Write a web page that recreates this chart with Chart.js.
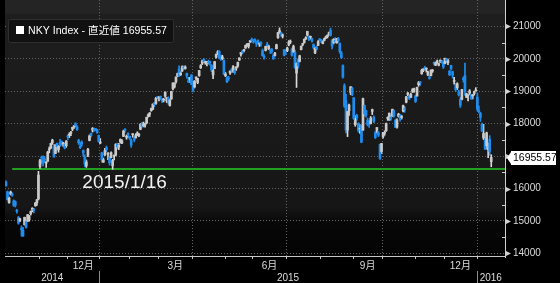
<!DOCTYPE html>
<html>
<head>
<meta charset="utf-8">
<script src="https://cdn.jsdelivr.net/npm/chart.js@4.4.0/dist/chart.umd.min.js"></script>
<style>
  html, body { margin: 0; padding: 0; background: #000; }
  #wrap { width: 560px; height: 283px; }
</style>
</head>
<body>
<div id="wrap"><canvas id="nkyChart" width="560" height="283"></canvas></div>
<script>
// NKY Index daily candles, Oct 2014 - Jan 2016
const seriesName = 'NKY Index - 直近値';
const lastValue = 16955.57;

const dates = [
  '2014-10-01','2014-10-02','2014-10-03','2014-10-06','2014-10-07','2014-10-08','2014-10-09','2014-10-10','2014-10-14','2014-10-15','2014-10-16','2014-10-17','2014-10-20','2014-10-21','2014-10-22','2014-10-23','2014-10-24','2014-10-27','2014-10-28','2014-10-29','2014-10-30','2014-10-31',
  '2014-11-04','2014-11-05','2014-11-06','2014-11-07','2014-11-10','2014-11-11','2014-11-12','2014-11-13','2014-11-14','2014-11-17','2014-11-18','2014-11-19','2014-11-20','2014-11-21','2014-11-25','2014-11-26','2014-11-27','2014-11-28',
  '2014-12-01','2014-12-02','2014-12-03','2014-12-04','2014-12-05','2014-12-08','2014-12-09','2014-12-10','2014-12-11','2014-12-12','2014-12-15','2014-12-16','2014-12-17','2014-12-18','2014-12-19','2014-12-22','2014-12-24','2014-12-25','2014-12-26','2014-12-29','2014-12-30',
  '2015-01-05','2015-01-06','2015-01-07','2015-01-08','2015-01-09','2015-01-13','2015-01-14','2015-01-15','2015-01-16','2015-01-19','2015-01-20','2015-01-21','2015-01-22','2015-01-23','2015-01-26','2015-01-27','2015-01-28','2015-01-29','2015-01-30',
  '2015-02-02','2015-02-03','2015-02-04','2015-02-05','2015-02-06','2015-02-09','2015-02-10','2015-02-12','2015-02-13','2015-02-16','2015-02-17','2015-02-18','2015-02-19','2015-02-20','2015-02-23','2015-02-24','2015-02-25','2015-02-26','2015-02-27',
  '2015-03-02','2015-03-03','2015-03-04','2015-03-05','2015-03-06','2015-03-09','2015-03-10','2015-03-11','2015-03-12','2015-03-13','2015-03-16','2015-03-17','2015-03-18','2015-03-19','2015-03-20','2015-03-23','2015-03-24','2015-03-25','2015-03-26','2015-03-27','2015-03-30','2015-03-31',
  '2015-04-01','2015-04-02','2015-04-03','2015-04-06','2015-04-07','2015-04-08','2015-04-09','2015-04-10','2015-04-13','2015-04-14','2015-04-15','2015-04-16','2015-04-17','2015-04-20','2015-04-21','2015-04-22','2015-04-23','2015-04-24','2015-04-27','2015-04-28','2015-04-30',
  '2015-05-01','2015-05-07','2015-05-08','2015-05-11','2015-05-12','2015-05-13','2015-05-14','2015-05-15','2015-05-18','2015-05-19','2015-05-20','2015-05-21','2015-05-22','2015-05-25','2015-05-26','2015-05-27','2015-05-28','2015-05-29',
  '2015-06-01','2015-06-02','2015-06-03','2015-06-04','2015-06-05','2015-06-08','2015-06-09','2015-06-10','2015-06-11','2015-06-12','2015-06-15','2015-06-16','2015-06-17','2015-06-18','2015-06-19','2015-06-22','2015-06-23','2015-06-24','2015-06-25','2015-06-26','2015-06-29','2015-06-30',
  '2015-07-01','2015-07-02','2015-07-03','2015-07-06','2015-07-07','2015-07-08','2015-07-09','2015-07-10','2015-07-13','2015-07-14','2015-07-15','2015-07-16','2015-07-17','2015-07-21','2015-07-22','2015-07-23','2015-07-24','2015-07-27','2015-07-28','2015-07-29','2015-07-30','2015-07-31',
  '2015-08-03','2015-08-04','2015-08-05','2015-08-06','2015-08-07','2015-08-10','2015-08-11','2015-08-12','2015-08-13','2015-08-14','2015-08-17','2015-08-18','2015-08-19','2015-08-20','2015-08-21','2015-08-24','2015-08-25','2015-08-26','2015-08-27','2015-08-28','2015-08-31',
  '2015-09-01','2015-09-02','2015-09-03','2015-09-04','2015-09-07','2015-09-08','2015-09-09','2015-09-10','2015-09-11','2015-09-14','2015-09-15','2015-09-16','2015-09-17','2015-09-18','2015-09-24','2015-09-25','2015-09-28','2015-09-29','2015-09-30',
  '2015-10-01','2015-10-02','2015-10-05','2015-10-06','2015-10-07','2015-10-08','2015-10-09','2015-10-13','2015-10-14','2015-10-15','2015-10-16','2015-10-19','2015-10-20','2015-10-21','2015-10-22','2015-10-23','2015-10-26','2015-10-27','2015-10-28','2015-10-29','2015-10-30',
  '2015-11-02','2015-11-04','2015-11-05','2015-11-06','2015-11-09','2015-11-10','2015-11-11','2015-11-12','2015-11-13','2015-11-16','2015-11-17','2015-11-18','2015-11-19','2015-11-20','2015-11-24','2015-11-25','2015-11-26','2015-11-27','2015-11-30',
  '2015-12-01','2015-12-02','2015-12-03','2015-12-04','2015-12-07','2015-12-08','2015-12-09','2015-12-10','2015-12-11','2015-12-14','2015-12-15','2015-12-16','2015-12-17','2015-12-18','2015-12-21','2015-12-22','2015-12-24','2015-12-25','2015-12-28','2015-12-29','2015-12-30',
  '2016-01-04','2016-01-05','2016-01-06','2016-01-07','2016-01-08','2016-01-12','2016-01-13','2016-01-14','2016-01-15','2016-01-18'
];

// [open, high, low, close], one row per date above
const ohlc = [
  [16200,16240,16070,16082],[15900,15920,15640,15661],[15560,15740,15550,15708],[15830,15920,15800,15890],[15840,15870,15760,15784],[15620,15650,15450,15478],[15600,15620,15430,15479],[15320,15360,15240,15300],[15100,15140,14900,14936],[15000,15090,14980,15073],[14760,14850,14530,14738],[14720,14800,14529,14532],[14890,15120,14870,15111],[14980,15000,14780,14804],[15000,15200,14980,15195],[15030,15170,14990,15138],[15230,15310,15180,15291],[15360,15410,15280,15388],[15350,15390,15250,15329],[15470,15570,15450,15553],[15560,15660,15480,15658],[15680,16530,15650,16413],
  [16680,16900,16620,16862],[16950,17000,16770,16937],[16880,17010,16700,16792],[16900,16990,16800,16880],[16780,16830,16650,16780],[16840,17150,16840,17124],[17190,17280,17100,17197],[17250,17400,17230,17392],[17410,17520,17360,17490],[17300,17360,16970,16973],[17080,17350,17080,17344],[17390,17400,17180,17288],[17200,17330,17120,17300],[17420,17520,17300,17357],[17450,17470,17330,17407],[17380,17420,17300,17383],[17360,17390,17220,17248],[17320,17480,17270,17459],
  [17610,17660,17500,17590],[17640,17720,17570,17663],[17700,17760,17630,17720],[17830,17890,17780,17887],[17900,17940,17850,17920],[17990,18030,17890,17935],[17900,17940,17790,17813],[17480,17520,17360,17412],[17300,17430,17230,17257],[17430,17470,17300,17371],[17170,17190,16990,17099],[16960,17040,16670,16755],[16700,16880,16650,16819],[17030,17240,16980,17210],[17480,17650,17470,17621],[17700,17710,17580,17635],[17800,17880,17740,17854],[17830,17860,17760,17808],[17820,17840,17780,17818],[17810,17820,17700,17729],[17640,17650,17430,17451],
  [17400,17540,17380,17409],[17100,17120,16810,16883],[16810,16940,16810,16885],[17030,17240,17020,17167],[17260,17310,17130,17198],[17060,17110,16890,17088],[16950,17000,16720,16796],[16950,17130,16940,17108],[16700,16900,16592,16864],[17000,17030,16880,17014],[17030,17380,17010,17366],[17360,17400,17220,17280],[17280,17390,17200,17329],[17440,17530,17400,17511],[17400,17510,17380,17468],[17610,17800,17600,17768],[17800,17850,17740,17795],[17580,17650,17520,17606],[17700,17720,17560,17674],
  [17610,17620,17510,17558],[17500,17530,17270,17336],[17660,17690,17580,17678],[17510,17600,17440,17504],[17570,17690,17550,17648],[17660,17750,17630,17711],[17640,17700,17600,17652],[17830,18000,17810,17979],[17980,18040,17890,17913],[17930,18050,17900,18004],[17960,18000,17890,17987],[18020,18200,18000,18199],[18240,18300,18200,18264],[18300,18340,18220,18332],[18400,18480,18380,18466],[18440,18610,18430,18603],[18640,18650,18520,18585],[18620,18810,18590,18785],[18800,18830,18760,18797],
  [18790,18840,18700,18826],[18840,18850,18740,18815],[18740,18780,18650,18703],[18720,18780,18670,18751],[18850,18980,18810,18971],[18700,18810,18650,18790],[18790,18830,18600,18665],[18560,18760,18540,18723],[18760,19000,18750,18991],[19080,19260,19040,19254],[19130,19260,19100,19246],[19300,19440,19250,19437],[19480,19560,19450,19544],[19690,19780,19450,19476],[19510,19600,19480,19560],[19620,19780,19610,19754],[19720,19780,19680,19713],[19700,19780,19680,19746],[19550,19560,19400,19471],[19320,19430,19270,19285],[19380,19430,19270,19411],[19500,19510,19200,19206],
  [19200,19270,18980,19034],[19130,19330,19100,19312],[19400,19440,19350,19435],[19270,19400,19230,19397],[19480,19640,19460,19640],[19720,19820,19700,19789],[19860,19960,19820,19937],[19980,20010,19880,19907],[19880,19930,19830,19905],[19850,19920,19780,19908],[19900,19960,19830,19869],[19900,19930,19800,19885],[19800,19820,19600,19652],[19500,19680,19390,19634],[19700,19920,19690,19909],[20050,20150,20020,20133],[20180,20250,20130,20187],[20230,20250,20000,20020],[20030,20110,19950,19983],[20000,20110,19970,20058],[19950,19970,19510,19520],
  [19480,19580,19450,19531],[19410,19450,19260,19291],[19380,19460,19330,19379],[19560,19630,19520,19620],[19680,19700,19580,19624],[19610,19790,19580,19764],[19650,19680,19520,19570],[19710,19760,19640,19732],[19780,19900,19740,19890],[19960,20030,19950,20026],[20140,20200,20080,20196],[20220,20260,20150,20202],[20250,20290,20210,20264],[20330,20420,20320,20413],[20430,20460,20380,20437],[20390,20480,20330,20472],[20530,20560,20500,20551],[20600,20640,20510,20563],
  [20600,20600,20480,20569],[20590,20620,20510,20543],[20490,20530,20380,20473],[20570,20580,20450,20488],[20450,20490,20380,20460],[20470,20530,20390,20457],[20250,20300,20080,20096],[20070,20130,19990,20046],[20260,20390,20240,20382],[20450,20510,20380,20407],[20300,20420,20280,20387],[20270,20300,20160,20257],[20290,20320,20170,20219],[20100,20130,19990,19990],[20100,20200,20080,20174],[20310,20450,20300,20428],[20650,20810,20630,20809],[20810,20952,20780,20868],[20780,20820,20690,20771],[20700,20770,20640,20706],[20270,20290,20090,20109],[20240,20280,20130,20235],
  [20250,20360,20220,20329],[20430,20560,20400,20522],[20510,20580,20470,20539],[20300,20330,20080,20112],[20210,20420,20190,20376],[20200,20270,19700,19737],[19560,19880,19115,19855],[19970,20000,19700,19779],[19920,20110,19900,20089],[20280,20400,20270,20385],[20440,20480,20400,20463],[20500,20610,20480,20600],[20620,20680,20590,20650],[20730,20850,20700,20841],[20680,20710,20560,20593],[20660,20700,20600,20683],[20620,20640,20510,20544],[20440,20460,20300,20350],[20180,20360,20160,20328],[20360,20390,20270,20302],[20410,20560,20400,20522],[20590,20620,20540,20585],
  [20580,20600,20500,20548],[20470,20560,20460,20520],[20570,20640,20550,20614],[20650,20700,20620,20664],[20680,20740,20640,20724],[20760,20820,20730,20808],[20880,20946,20700,20720],[20560,20590,20300,20392],[20500,20620,20460,20595],[20570,20650,20500,20519],[20490,20630,20480,20620],[20620,20660,20510,20554],[20470,20490,20170,20222],[20180,20230,20010,20033],[19790,19810,19400,19435],[19170,19230,18500,18540],[18710,18900,17714,17806],[17800,18380,17600,18376],[18400,18600,18250,18574],[18960,19140,18890,19136],[19100,19130,18860,18890],
  [18800,18800,18130,18165],[17970,18240,17920,18095],[18260,18290,18100,18182],[18000,18030,17740,17792],[17830,17970,17700,17860],[17950,17960,17410,17427],[17800,18790,17790,18770],[18560,18570,18240,18299],[18400,18420,18200,18264],[18110,18170,17930,17965],[18030,18080,17880,18026],[18000,18220,17990,18171],[18380,18450,18280,18432],[18200,18240,18030,18070],[17720,17770,17540,17571],[17800,17880,17710,17880],[17720,17760,17600,17645],[17360,17370,16901,16930],[17140,17390,17080,17388],
  [17600,17730,17550,17722],[17700,17780,17640,17725],[17780,18020,17760,18005],[18160,18210,18100,18186],[18120,18330,18100,18322],[18200,18260,18100,18141],[18240,18450,18220,18438],[18400,18420,18200,18234],[18100,18140,17880,17891],[17890,18150,17860,18097],[18230,18320,18200,18291],[18260,18290,18080,18131],[18190,18260,18140,18207],[18390,18570,18360,18554],[18460,18520,18350,18435],[18660,18840,18640,18825],[18900,18960,18860,18947],[18850,18880,18740,18778],[18810,18940,18800,18903],[19000,19080,18960,19041],[18990,19100,18960,19083],
  [18850,18880,18650,18683],[18850,19130,18850,19117],[19200,19300,19150,19265],[19280,19300,19180,19265],[19540,19680,19520,19642],[19640,19700,19600,19671],[19730,19770,19650,19697],[19680,19720,19590,19697],[19500,19620,19480,19596],[19430,19490,19370,19393],[19480,19660,19470,19649],[19620,19670,19580,19649],[19860,19900,19810,19859],[19800,19900,19790,19879],[19900,19960,19860,19924],[19800,19870,19780,19847],[19930,19960,19880,19944],[19930,19950,19860,19883],[19880,19910,19700,19747],
  [19850,20020,19840,20012],[20000,20010,19880,19938],[19880,19990,19820,19939],[19620,19640,19480,19504],[19800,19800,19650,19698],[19600,19620,19400,19492],[19300,19430,19220,19301],[19200,19240,18990,19046],[19100,19260,19050,19230],[18980,19030,18850,18883],[18750,18810,18500,18565],[18750,19060,18730,19049],[19400,19440,19280,19353],[19480,19869,18870,18986],[18810,18940,18800,18916],[18870,18890,18700,18886],[18940,19050,18900,19008],[18880,18900,18750,18769],[18850,18900,18760,18873],[18930,19000,18880,18982],[19010,19110,19000,19033],
  [18820,18950,18390,18450],[18400,18550,18330,18374],[18310,18350,18070,18191],[17980,18020,17760,17767],[17560,17980,17510,17697],[17490,17560,17200,17218],[17320,17740,17220,17715],[17200,17400,16950,17240],[17520,17630,17020,17147],[16830,17040,16670,16955.57]
];

const yTicks = [14000, 15000, 16000, 17000, 18000, 19000, 20000, 21000];
const monthStarts = ['2014-11','2014-12','2015-01','2015-02','2015-03','2015-04','2015-05','2015-06','2015-07','2015-08','2015-09','2015-10','2015-11','2015-12','2016-01'];
const quarterStarts = ['2015-01','2015-04','2015-07','2015-10','2016-01'];
const monthLabels = ['12月', '3月', '6月', '9月', '12月'];
const monthLabelMonths = ['2014-12','2015-03','2015-06','2015-09','2015-12'];
const yearLabels = ['2014', '2015', '2016'];
const yearStarts = ['2015-01', '2016-01'];

// green support line at the 2015/1/16 low
const markerLabel = '2015/1/16';
const markerDate = '2015-01-16';
const markerStart = '2014-10-07';
const markerValue = 16592;

const UP_BODY = '#cacaca', UP_WICK = '#dadada', DOWN = '#1f8df0';

// x positions are trading-day indexes, as on the terminal chart
const idxOf = d => dates.indexOf(d);
const firstIdx = m => dates.findIndex(d => d.slice(0, 7) >= m);
const monthEdge = m => firstIdx(m) - 0.5;
const isUp = i => ohlc[i][3] >= ohlc[i][0];

const bodyPoints = dates.map((d, i) => ({ x: i, y: [ohlc[i][0], ohlc[i][3]] }));
const wickPoints = dates.map((d, i) => ({ x: i, y: [ohlc[i][2], ohlc[i][1]] }));

const FONT = '"Liberation Sans", "Noto Sans CJK JP", sans-serif';

const chrome = {
    id: 'chrome',
    beforeDraw(chart) {
        const {ctx, chartArea: a, scales: {x}} = chart;
        ctx.save();
        ctx.fillStyle = '#000';
        ctx.fillRect(0, 0, chart.width, chart.height);
        ctx.fillStyle = '#242424';
        ctx.fillRect(a.left, 0, a.right - a.left, a.top);
        const g = ctx.createLinearGradient(0, a.top, 0, a.bottom);
        g.addColorStop(0, '#1e1e1e');
        g.addColorStop(0.8, '#161616');
        g.addColorStop(0.87, '#070707');
        g.addColorStop(1, '#040404');
        ctx.fillStyle = g;
        ctx.fillRect(a.left, a.top, a.right - a.left, a.bottom - a.top);

        // quarter grid lines
        ctx.strokeStyle = '#646464';
        ctx.lineWidth = 1;
        ctx.setLineDash([1, 2]);
        quarterStarts.forEach(m => {
            const px = Math.round(x.getPixelForValue(monthEdge(m))) + 0.5;
            ctx.beginPath();
            ctx.moveTo(px, 0);
            ctx.lineTo(px, a.bottom);
            ctx.stroke();
        });
        ctx.restore();
    },
    beforeDatasetsDraw(chart) {
        const {ctx, chartArea: a, scales: {x, y}} = chart;
        ctx.save();
        const py = Math.round(y.getPixelForValue(markerValue));
        ctx.strokeStyle = '#22a022';
        ctx.lineWidth = 2;
        ctx.beginPath();
        ctx.moveTo(x.getPixelForValue(idxOf(markerStart)), py);
        ctx.lineTo(a.right, py);
        ctx.stroke();
        ctx.restore();
    },
    afterDatasetsDraw(chart) {
        const {ctx, chartArea: a, scales: {x, y}} = chart;
        ctx.save();

        // marker label
        ctx.fillStyle = '#f2f2f2';
        ctx.font = '19px ' + FONT;
        ctx.textAlign = 'center';
        ctx.textBaseline = 'alphabetic';
        ctx.fillText(markerLabel, x.getPixelForValue(idxOf(markerDate)) + 12, y.getPixelForValue(markerValue) + 19);

        // legend box
        ctx.fillStyle = '#111111';
        ctx.strokeStyle = '#2f2f2f';
        ctx.lineWidth = 1;
        ctx.beginPath();
        ctx.roundRect(8.5, 19.5, 165, 23, 2);
        ctx.fill();
        ctx.stroke();
        ctx.fillStyle = '#ffffff';
        ctx.fillRect(16, 26, 8, 8);
        ctx.font = '10.6px ' + FONT;
        ctx.textAlign = 'left';
        ctx.textBaseline = 'middle';
        ctx.fillText(seriesName + ' ' + lastValue.toFixed(2), 28, 31);

        // y axis line, major arrows, minor ticks
        ctx.strokeStyle = '#d0d0d0';
        ctx.fillStyle = '#d0d0d0';
        ctx.beginPath();
        ctx.moveTo(a.right + 0.5, 0);
        ctx.lineTo(a.right + 0.5, a.bottom + 2);
        ctx.stroke();
        yTicks.forEach(v => {
            const py = Math.round(y.getPixelForValue(v)) + 0.5;
            ctx.beginPath();
            ctx.moveTo(a.right + 1, py - 2.5);
            ctx.lineTo(a.right + 6, py);
            ctx.lineTo(a.right + 1, py + 2.5);
            ctx.closePath();
            ctx.fill();
            const pm = Math.round(y.getPixelForValue(v + 500)) + 0.5;
            if (pm > a.top) {
                ctx.beginPath();
                ctx.moveTo(a.right - 3, pm);
                ctx.lineTo(a.right, pm);
                ctx.stroke();
            }
        });

        // last value box
        const vy = Math.round(y.getPixelForValue(lastValue));
        ctx.fillStyle = '#ffffff';
        ctx.beginPath();
        ctx.moveTo(a.right + 2, vy);
        ctx.lineTo(a.right + 6, vy - 6);
        ctx.lineTo(a.right + 6, vy - 7);
        ctx.lineTo(a.right + 51, vy - 7);
        ctx.lineTo(a.right + 51, vy + 7);
        ctx.lineTo(a.right + 6, vy + 7);
        ctx.lineTo(a.right + 6, vy + 6);
        ctx.closePath();
        ctx.fill();
        ctx.fillStyle = '#000';
        ctx.font = '10.5px ' + FONT;
        ctx.textAlign = 'left';
        ctx.textBaseline = 'middle';
        ctx.fillText(lastValue.toFixed(2), a.right + 8, vy + 0.5);

        // x axis
        ctx.strokeStyle = '#c8c8c8';
        ctx.beginPath();
        ctx.moveTo(a.left, a.bottom + 0.5);
        ctx.lineTo(a.right, a.bottom + 0.5);
        ctx.stroke();
        monthStarts.forEach(m => {
            const px = Math.round(x.getPixelForValue(monthEdge(m))) + 0.5;
            ctx.beginPath();
            ctx.moveTo(px, a.bottom);
            ctx.lineTo(px, a.bottom + 3);
            ctx.stroke();
        });
        ctx.fillStyle = '#dcdcdc';
        ctx.font = '10px ' + FONT;
        ctx.textAlign = 'center';
        monthLabels.forEach((t, i) => {
            const m = monthLabelMonths[i];
            const i0 = firstIdx(m);
            let i1 = dates.findIndex(d => d.slice(0, 7) > m);
            if (i1 < 0) i1 = dates.length;
            ctx.fillText(t, x.getPixelForValue((i0 + i1 - 1) / 2), a.bottom + 10);
        });
        const edges = [a.left].concat(yearStarts.map(m => x.getPixelForValue(monthEdge(m))), [a.right]);
        yearLabels.forEach((t, i) => {
            ctx.fillText(t, (edges[i] + edges[i + 1]) / 2, a.bottom + 22);
        });
        ctx.strokeStyle = '#8c8c8c';
        yearStarts.forEach(m => {
            const px = Math.round(x.getPixelForValue(monthEdge(m))) + 0.5;
            ctx.beginPath();
            ctx.moveTo(px, a.bottom + 15);
            ctx.lineTo(px, chart.height);
            ctx.stroke();
        });
        ctx.restore();
    }
};

new Chart(document.getElementById('nkyChart'), {
    type: 'bar',
    data: {
        datasets: [{
            label: 'body',
            data: bodyPoints,
            grouped: false,
            barThickness: 2,
            minBarLength: 1,
            borderWidth: 0,
            backgroundColor: c => isUp(c.dataIndex) ? UP_BODY : DOWN
        }, {
            label: 'wick',
            data: wickPoints,
            grouped: false,
            barThickness: 1,
            borderWidth: 0,
            backgroundColor: c => isUp(c.dataIndex) ? UP_WICK : DOWN
        }]
    },
    options: {
        responsive: false,
        animation: false,
        events: [],
        layout: { padding: { left: 5, top: 8, right: 0, bottom: 27 } },
        plugins: { legend: { display: false }, tooltip: { enabled: false } },
        scales: {
            x: { type: 'linear', display: false, min: -0.65, max: 322.9, offset: false },
            y: {
                position: 'right',
                min: 13920,
                max: 21380,
                afterBuildTicks: s => { s.ticks = yTicks.map(v => ({ value: v })); },
                afterFit: s => { s.width = 55; },
                grid: { color: '#646464', drawTicks: false },
                border: { display: false, dash: [1, 2] },
                ticks: {
                    color: '#dcdcdc',
                    padding: 8,
                    font: { family: '"Liberation Sans", sans-serif', size: 10 },
                    callback: v => String(v)
                }
            }
        }
    },
    plugins: [chrome]
});
</script>
</body>
</html>
